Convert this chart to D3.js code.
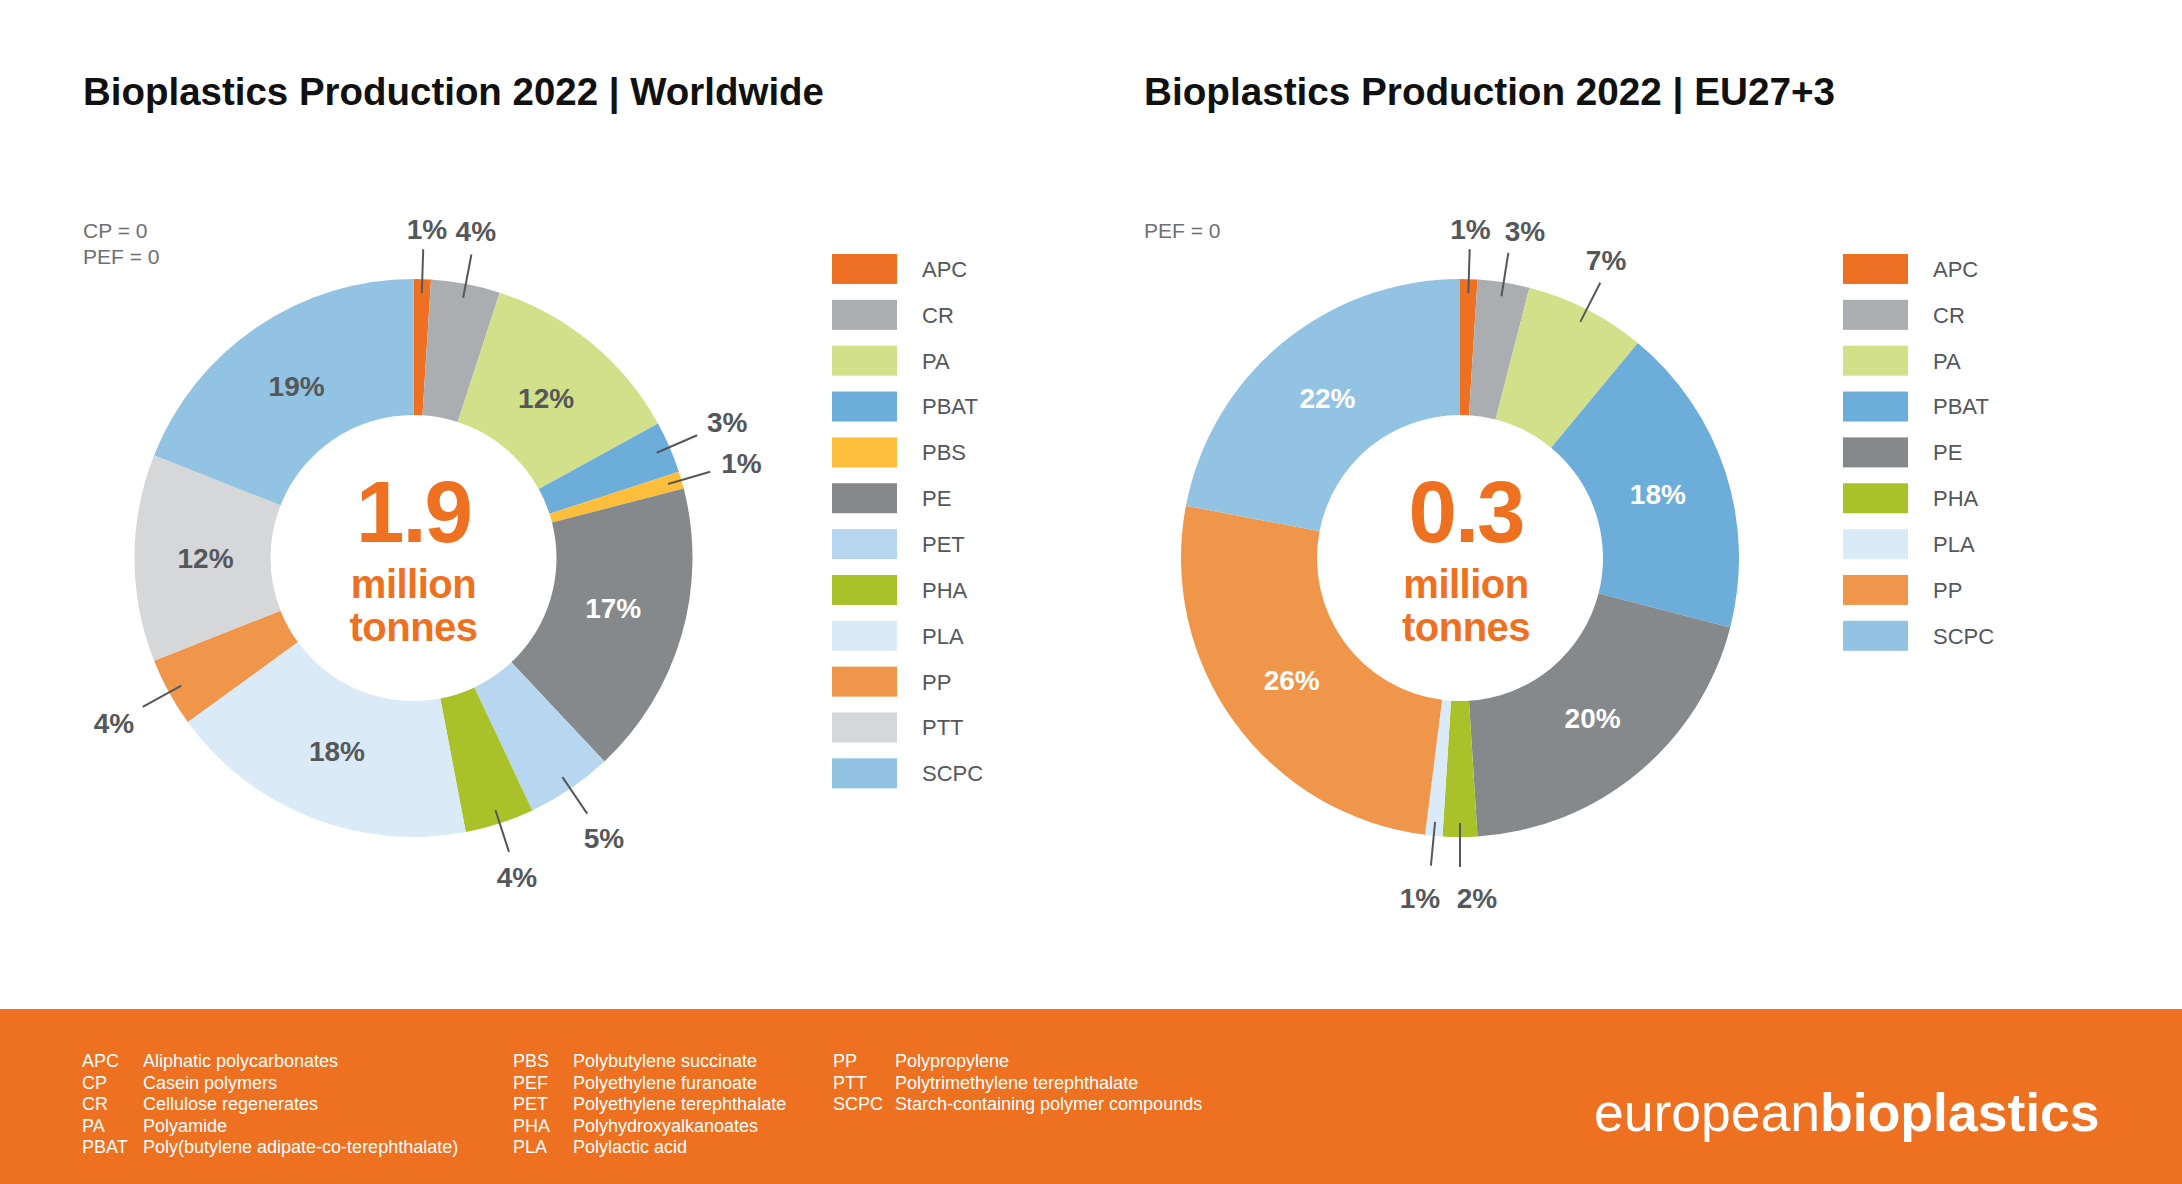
<!DOCTYPE html>
<html>
<head>
<meta charset="utf-8">
<script src="https://cdn.jsdelivr.net/npm/d3@7"></script>
<style>
  html, body { margin: 0; padding: 0; background: #ffffff; }
  svg { display: block; }
  text { font-family: "Liberation Sans", Arial, Helvetica, sans-serif; }
</style>
</head>
<body>
<svg id="chart" width="2182" height="1184"></svg>
<script>
// ---------------- DATA ----------------
const worldCategories = ["APC", "CR", "PA", "PBAT", "PBS", "PE", "PET", "PHA", "PLA", "PP", "PTT", "SCPC"];
const worldValues     = [1, 4, 12, 3, 1, 17, 5, 4, 18, 4, 12, 19];
const worldTotal      = "1.9";
const worldNotes      = ["CP = 0", "PEF = 0"];
const worldTitle      = "Bioplastics Production 2022 | Worldwide";

const euCategories = ["APC", "CR", "PA", "PBAT", "PE", "PHA", "PLA", "PP", "SCPC"];
const euValues     = [1, 3, 7, 18, 20, 2, 1, 26, 22];
const euTotal      = "0.3";
const euNotes      = ["PEF = 0"];
const euTitle      = "Bioplastics Production 2022 | EU27+3";

const unitLines = ["million", "tonnes"];

const glossaryAbbr = [
  ["APC", "CP", "CR", "PA", "PBAT"],
  ["PBS", "PEF", "PET", "PHA", "PLA"],
  ["PP", "PTT", "SCPC"]
];
const glossaryNames = [
  ["Aliphatic polycarbonates", "Casein polymers", "Cellulose regenerates", "Polyamide", "Poly(butylene adipate-co-terephthalate)"],
  ["Polybutylene succinate", "Polyethylene furanoate", "Polyethylene terephthalate", "Polyhydroxyalkanoates", "Polylactic acid"],
  ["Polypropylene", "Polytrimethylene terephthalate", "Starch-containing polymer compounds"]
];
const logoParts = ["european", "bioplastics"];

// ---------------- STYLE ----------------
const colorMap = {
  APC: "#EE7123", CR: "#ABAEB1", PA: "#D3E08A", PBAT: "#6DADDA", PBS: "#FDBF3B",
  PE: "#86898C", PET: "#B7D7F0", PHA: "#A9C22A", PLA: "#DAEAF7", PP: "#F0964B",
  PTT: "#D6D7D9", SCPC: "#93C3E3"
};
const ORANGE = "#EE7122";
const LABEL = "#54585B";

const svg = d3.select("#chart");

const charts = [
  { cats: worldCategories, vals: worldValues, total: worldTotal, notes: worldNotes, title: worldTitle,
    cx: 413.5, cy: 558, textDx: 0, titleX: 83, titleW: 741, legendX: 832,
    whiteLabels: new Set(["PE"]), nudges: { APC: [3, 0] }, inNudges: { PE: [0, -8] } },
  { cats: euCategories, vals: euValues, total: euTotal, notes: euNotes, title: euTitle,
    cx: 1460, cy: 558, textDx: 6, titleX: 1144, titleW: 691, legendX: 1843,
    whiteLabels: new Set(["SCPC", "PBAT", "PE", "PP"]),
    nudges: { CR: [13, 1], PA: [-7, 2], PLA: [-9, 11], PHA: [17, 11] }, inNudges: {} }
];

const R_OUT = 279, R_IN = 143, R_LABEL = 208, R_L1 = 265, R_L2 = 309;

charts.forEach(c => {
  const data = c.cats.map((k, i) => ({ key: k, value: c.vals[i] }));
  const pie = d3.pie().sort(null).value(d => d.value).startAngle(0).endAngle(2 * Math.PI);
  const arcs = pie(data);
  const arc = d3.arc().innerRadius(R_IN).outerRadius(R_OUT);
  const labelArc = d3.arc().innerRadius(R_LABEL).outerRadius(R_LABEL);

  // title
  svg.append("text")
    .attr("x", c.titleX).attr("y", 105)
    .attr("font-size", 38).attr("font-weight", "bold").attr("fill", "#111")
    .attr("textLength", c.titleW).attr("lengthAdjust", "spacingAndGlyphs")
    .text(c.title);

  // notes
  c.notes.forEach((n, i) => {
    svg.append("text")
      .attr("x", c.titleX).attr("y", 238 + i * 26)
      .attr("font-size", 21).attr("fill", "#6D6F72")
      .text(n);
  });

  const g = svg.append("g").attr("transform", `translate(${c.cx},${c.cy})`);

  g.selectAll("path.slice").data(arcs).join("path")
    .attr("class", "slice")
    .attr("d", arc)
    .attr("fill", d => colorMap[d.data.key]);

  // inside labels
  g.selectAll("text.inlabel").data(arcs.filter(d => d.data.value >= 10)).join("text")
    .attr("class", "inlabel")
    .attr("transform", d => {
      const p = labelArc.centroid(d);
      const nd = c.inNudges[d.data.key] || [0, 0];
      return `translate(${p[0] + nd[0]},${p[1] + nd[1]})`;
    })
    .attr("text-anchor", "middle").attr("dy", "0.36em")
    .attr("font-size", 28).attr("font-weight", "bold")
    .attr("fill", d => c.whiteLabels.has(d.data.key) ? "#ffffff" : LABEL)
    .text(d => d.data.value + "%");

  // outside labels with leader lines
  const outs = arcs.filter(d => d.data.value < 10);
  outs.forEach(d => {
    const a = (d.startAngle + d.endAngle) / 2;
    const s = Math.sin(a), co = -Math.cos(a);
    g.append("line")
      .attr("x1", R_L1 * s).attr("y1", R_L1 * co)
      .attr("x2", R_L2 * s).attr("y2", R_L2 * co)
      .attr("stroke", LABEL).attr("stroke-width", 2);
    const rl = R_L2 + 10 + Math.abs(s) * 20.5 + Math.abs(co) * 10;
    const nd = c.nudges[d.data.key] || [0, 0];
    g.append("text")
      .attr("x", rl * s + nd[0]).attr("y", rl * co + nd[1])
      .attr("text-anchor", "middle").attr("dy", "0.36em")
      .attr("font-size", 28).attr("font-weight", "bold").attr("fill", LABEL)
      .text(d.data.value + "%");
  });

  // centre text
  g.append("text")
    .attr("x", c.textDx).attr("y", -16)
    .attr("text-anchor", "middle")
    .attr("font-size", 87).attr("font-weight", "bold").attr("fill", ORANGE)
    .attr("letter-spacing", -2)
    .text(c.total);
  unitLines.forEach((t, i) => {
    g.append("text")
      .attr("x", c.textDx).attr("y", 40 + i * 43)
      .attr("text-anchor", "middle")
      .attr("font-size", 40).attr("font-weight", "bold").attr("fill", ORANGE)
      .attr("letter-spacing", -0.5)
      .text(t);
  });

  // legend
  const lg = svg.append("g");
  c.cats.forEach((k, i) => {
    const top = 254 + i * 45.85;
    lg.append("rect")
      .attr("x", c.legendX).attr("y", top)
      .attr("width", 65).attr("height", 30)
      .attr("fill", colorMap[k]);
    lg.append("text")
      .attr("x", c.legendX + 90).attr("y", top + 15)
      .attr("dy", "0.36em")
      .attr("font-size", 22).attr("fill", LABEL)
      .text(k);
  });
});

// ---------------- FOOTER ----------------
svg.append("rect")
  .attr("x", 0).attr("y", 1009).attr("width", 2182).attr("height", 175)
  .attr("fill", ORANGE);

const colAbbrX = [82, 513, 833];
const colNameX = [143, 573, 895];
glossaryAbbr.forEach((col, ci) => {
  col.forEach((ab, ri) => {
    const y = 1067 + ri * 21.5;
    svg.append("text").attr("x", colAbbrX[ci]).attr("y", y)
      .attr("font-size", 18).attr("fill", "#ffffff").text(ab);
    svg.append("text").attr("x", colNameX[ci]).attr("y", y)
      .attr("font-size", 18).attr("fill", "#ffffff").text(glossaryNames[ci][ri]);
  });
});

const logo = svg.append("text")
  .attr("x", 1594).attr("y", 1131)
  .attr("font-size", 53.5).attr("fill", "#ffffff");
logo.append("tspan").text(logoParts[0]);
logo.append("tspan").attr("font-weight", "bold").text(logoParts[1]);
</script>
</body>
</html>
